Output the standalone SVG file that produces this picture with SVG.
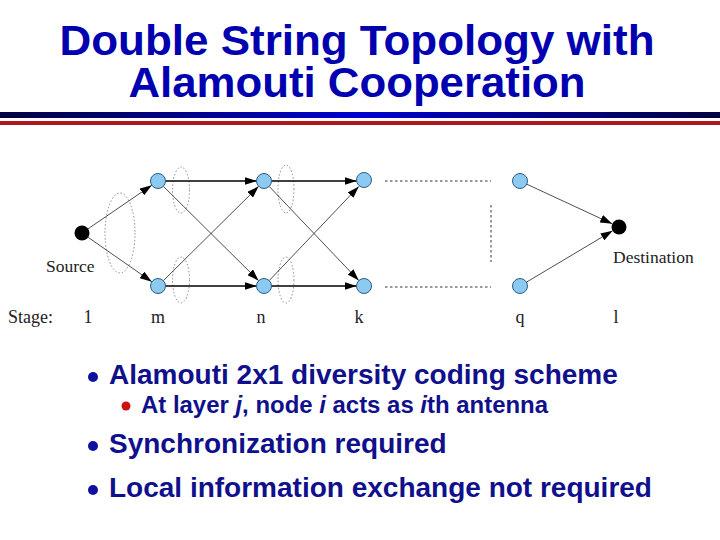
<svg xmlns="http://www.w3.org/2000/svg" width="720" height="540" viewBox="0 0 720 540">
<style>
.title{font-family:"Liberation Sans",Arial,sans-serif;font-weight:bold;font-size:42px;fill:#0000b0;text-anchor:middle}
.lbl{font-family:"Liberation Serif","Times New Roman",serif;font-size:17.5px;fill:#222}
.stg{font-family:"Liberation Serif","Times New Roman",serif;font-size:18px;fill:#222;text-anchor:middle}
.b1{font-family:"Liberation Sans",Arial,sans-serif;font-weight:bold;font-size:28px;fill:#10108c}
.b2{font-family:"Liberation Sans",Arial,sans-serif;font-weight:bold;font-size:23px;fill:#10108c}
.node{fill:#8ccaf2;stroke:#2c5d82;stroke-width:1}
.term{fill:#000}
.h{stroke:#000;stroke-width:1.3;fill:none}
.d{stroke:#222;stroke-width:0.8;fill:none}
.dots{stroke:#333;stroke-width:1;stroke-dasharray:2.5,2.5;fill:none}
.ell{stroke:#8a8a8a;stroke-width:1;stroke-dasharray:1.5,2;fill:none}
</style>
<defs>
<linearGradient id="bl" x1="0" y1="0" x2="1" y2="0">
<stop offset="0" stop-color="#000040"/>
<stop offset="0.5" stop-color="#0000d0"/>
<stop offset="1" stop-color="#000040"/>
</linearGradient>
<marker id="ar" viewBox="0 0 12 8" refX="12" refY="4" markerWidth="12" markerHeight="8" markerUnits="userSpaceOnUse" orient="auto">
<path d="M0,0 L12,4 L0,8 Z" fill="#000"/>
</marker>
</defs>
<rect width="720" height="540" fill="#fff"/>
<g id="title">
<text class="title" x="357" y="55" textLength="595" lengthAdjust="spacingAndGlyphs">Double String Topology with</text>
<text class="title" x="357" y="97" textLength="457" lengthAdjust="spacingAndGlyphs">Alamouti Cooperation</text>
</g>
<g id="rules">
<rect x="0" y="112" width="720" height="6" fill="url(#bl)"/>
<rect x="0" y="121" width="720" height="4" fill="#b0161e"/>
</g>
<g id="groups">
<ellipse class="ell" cx="120" cy="233" rx="15" ry="40"/>
<ellipse class="ell" cx="181" cy="190" rx="8.5" ry="23"/>
<ellipse class="ell" cx="181" cy="280" rx="8.5" ry="23"/>
<ellipse class="ell" cx="286" cy="189" rx="8" ry="24"/>
<ellipse class="ell" cx="286" cy="280" rx="8" ry="23"/>
</g>
<g id="connectors">
<line class="d" x1="87.8" y1="229" x2="151.8" y2="185.2" marker-end="url(#ar)"/>
<line class="d" x1="87.7" y1="237" x2="151.8" y2="281.7" marker-end="url(#ar)"/>
<line class="h" x1="165.5" y1="181" x2="256.5" y2="181" marker-end="url(#ar)"/>
<line class="d" x1="163.3" y1="186.3" x2="258.7" y2="280.7" marker-end="url(#ar)"/>
<line class="d" x1="163.3" y1="280.7" x2="258.7" y2="186.3" marker-end="url(#ar)"/>
<line class="h" x1="165.5" y1="286" x2="256.5" y2="286" marker-end="url(#ar)"/>
<line class="h" x1="271.5" y1="181" x2="356.5" y2="181" marker-end="url(#ar)"/>
<line class="d" x1="269.2" y1="186.4" x2="358.8" y2="280.6" marker-end="url(#ar)"/>
<line class="d" x1="269.2" y1="280.6" x2="358.8" y2="186.4" marker-end="url(#ar)"/>
<line class="h" x1="271.5" y1="286" x2="356.5" y2="286" marker-end="url(#ar)"/>
<line class="d" x1="526.8" y1="184.2" x2="612.2" y2="223.8" marker-end="url(#ar)"/>
<line class="d" x1="526.4" y1="282.2" x2="612.6" y2="230.8" marker-end="url(#ar)"/>
<line class="dots" x1="385" y1="181" x2="491" y2="181"/>
<line class="dots" x1="385" y1="287" x2="491" y2="287"/>
<line class="dots" x1="491" y1="205" x2="491" y2="262"/>
</g>
<g id="source"><circle class="term" cx="82" cy="233" r="7.5"/><text class="lbl" x="46" y="272">Source</text></g>
<g id="m1"><circle class="node" cx="158" cy="181" r="7.5"/></g>
<g id="m2"><circle class="node" cx="158" cy="286" r="7.5"/></g>
<g id="n1"><circle class="node" cx="264" cy="181" r="7.5"/></g>
<g id="n2"><circle class="node" cx="264" cy="286" r="7.5"/></g>
<g id="k1"><circle class="node" cx="364" cy="180" r="7.5"/></g>
<g id="k2"><circle class="node" cx="364" cy="286" r="7.5"/></g>
<g id="q1"><circle class="node" cx="520" cy="181" r="7.5"/></g>
<g id="q2"><circle class="node" cx="520" cy="286" r="7.5"/></g>
<g id="destination"><circle class="term" cx="619" cy="227" r="7.5"/><text class="lbl" x="613" y="263">Destination</text></g>
<g id="stages">
<text class="lbl" x="8" y="323" style="font-size:18px">Stage:</text>
<text class="stg" x="88" y="323">1</text>
<text class="stg" x="158" y="323">m</text>
<text class="stg" x="261" y="323">n</text>
<text class="stg" x="359" y="323">k</text>
<text class="stg" x="520" y="323">q</text>
<text class="stg" x="616" y="323">l</text>
</g>
<g id="bullets">
<circle cx="93" cy="377" r="5" fill="#1010a0"/>
<text class="b1" x="109" y="384">Alamouti 2x1 diversity coding scheme</text>
<circle cx="126" cy="406" r="4.5" fill="#cc1010"/>
<text class="b2" x="141" y="413" textLength="407" lengthAdjust="spacingAndGlyphs">At layer <tspan font-style="italic">j</tspan>, node <tspan font-style="italic">i</tspan> acts as <tspan font-style="italic">i</tspan>th antenna</text>
<circle cx="93" cy="446" r="5" fill="#1010a0"/>
<text class="b1" x="109" y="453">Synchronization required</text>
<circle cx="93" cy="490" r="5" fill="#1010a0"/>
<text class="b1" x="109" y="497">Local information exchange not required</text>
</g>
</svg>
